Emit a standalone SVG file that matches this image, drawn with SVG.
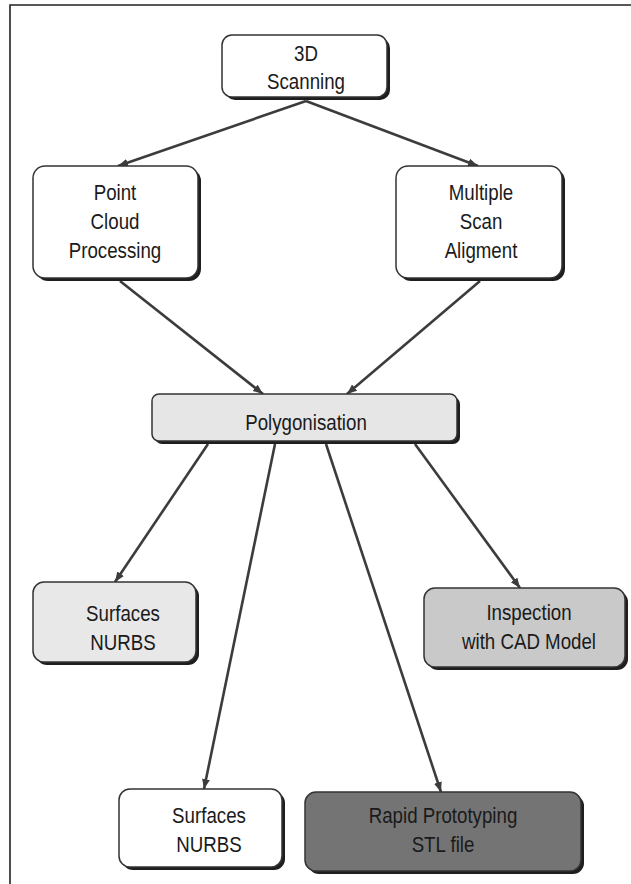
<svg xmlns="http://www.w3.org/2000/svg" width="631" height="884" viewBox="0 0 631 884">
<defs>
<style>
.shadow{fill:#1e1e1e;}
.box{stroke:#333;stroke-width:1.5;}
.t{font-family:"Liberation Sans","Arial",sans-serif;font-size:22px;fill:#1a1a1a;text-anchor:middle;}
.c{stroke:#3c3c3c;stroke-width:2.6;fill:none;marker-end:url(#ah);}
</style>
<marker id="ah" markerUnits="userSpaceOnUse" markerWidth="12" markerHeight="10" refX="10" refY="4" orient="auto">
<path d="M0,0 L10,4 L0,8 z" fill="#3c3c3c"/>
</marker>
</defs>
<rect width="631" height="884" fill="#fff"/>
<path d="M631,5 H10 V884" fill="none" stroke="#222" stroke-width="1.6"/>
<g id="connectors">
<line class="c" x1="306" y1="101" x2="118" y2="166"/>
<line class="c" x1="306" y1="101" x2="478" y2="166"/>
<line class="c" x1="120" y1="281" x2="263" y2="394"/>
<line class="c" x1="480" y1="281" x2="347" y2="394"/>
<line class="c" x1="208" y1="444" x2="115" y2="582"/>
<line class="c" x1="275" y1="444" x2="204" y2="789"/>
<line class="c" x1="326" y1="444" x2="441" y2="792"/>
<line class="c" x1="415" y1="444" x2="520" y2="588"/>
</g>
<g id="scanning">
<rect class="shadow" x="225" y="38" width="165" height="62" rx="10"/>
<rect class="box" x="222" y="35" width="165" height="62" rx="10" fill="#fff"/>
<g transform="translate(306 0) scale(0.85 1)">
<text class="t" x="0" y="61">3D</text>
<text class="t" x="0" y="89">Scanning</text>
</g>
</g>
<g id="pointcloud">
<rect class="shadow" x="36" y="169" width="165" height="112" rx="12"/>
<rect class="box" x="33" y="166" width="165" height="112" rx="12" fill="#fff"/>
<g transform="translate(115 0) scale(0.85 1)">
<text class="t" x="0" y="200">Point</text>
<text class="t" x="0" y="229">Cloud</text>
<text class="t" x="0" y="258">Processing</text>
</g>
</g>
<g id="multiscan">
<rect class="shadow" x="399" y="169" width="166" height="112" rx="12"/>
<rect class="box" x="396" y="166" width="166" height="112" rx="12" fill="#fff"/>
<g transform="translate(481 0) scale(0.85 1)">
<text class="t" x="0" y="200">Multiple</text>
<text class="t" x="0" y="229">Scan</text>
<text class="t" x="0" y="258">Aligment</text>
</g>
</g>
<g id="polygonisation">
<rect class="shadow" x="155" y="397" width="305" height="47" rx="7"/>
<rect class="box" x="152" y="394" width="305" height="47" rx="7" fill="#e6e6e6"/>
<g transform="translate(306 0) scale(0.85 1)">
<text class="t" x="0" y="430">Polygonisation</text>
</g>
</g>
<g id="surfaces1">
<rect class="shadow" x="36" y="585" width="163" height="80" rx="11"/>
<rect class="box" x="33" y="582" width="163" height="80" rx="11" fill="#e8e8e8"/>
<g transform="translate(123 0) scale(0.85 1)">
<text class="t" x="0" y="621">Surfaces</text>
<text class="t" x="0" y="650">NURBS</text>
</g>
</g>
<g id="inspection">
<rect class="shadow" x="427" y="591" width="201" height="79" rx="11"/>
<rect class="box" x="424" y="588" width="201" height="79" rx="11" fill="#c9c9c9"/>
<g transform="translate(529 0) scale(0.85 1)">
<text class="t" x="0" y="620">Inspection</text>
<text class="t" x="0" y="649">with CAD Model</text>
</g>
</g>
<g id="surfaces2">
<rect class="shadow" x="122" y="792" width="163" height="78" rx="11"/>
<rect class="box" x="119" y="789" width="163" height="78" rx="11" fill="#fff"/>
<g transform="translate(209 0) scale(0.85 1)">
<text class="t" x="0" y="823">Surfaces</text>
<text class="t" x="0" y="852">NURBS</text>
</g>
</g>
<g id="rapid">
<rect class="shadow" x="308" y="795" width="276" height="79" rx="11"/>
<rect class="box" x="305" y="792" width="276" height="79" rx="11" fill="#747474"/>
<g transform="translate(443 0) scale(0.85 1)">
<text class="t" x="0" y="823">Rapid Prototyping</text>
<text class="t" x="0" y="852">STL file</text>
</g>
</g>
</svg>
